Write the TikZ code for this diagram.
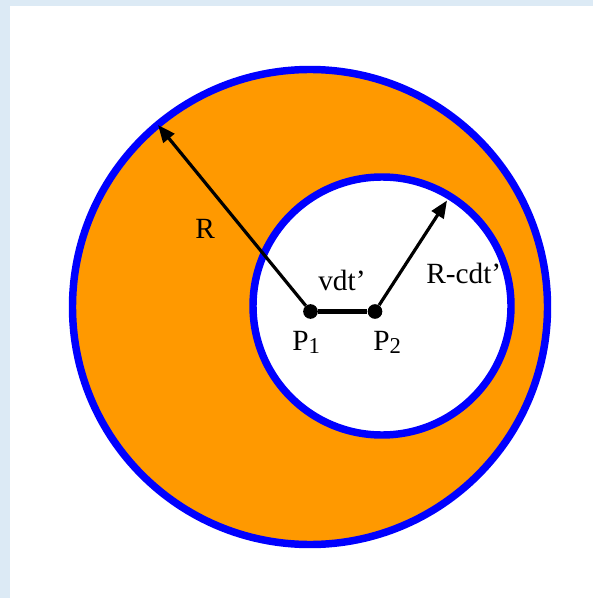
\documentclass[tikz,border=0pt]{standalone}
\usepackage{fontspec}
\setmainfont{Liberation Serif}
\usetikzlibrary{arrows.meta}
\definecolor{bgblue}{RGB}{220,234,245}
\definecolor{ringorange}{RGB}{255,153,0}
\definecolor{ringblue}{RGB}{0,0,255}
\newcommand{\sbs}[1]{{\fontsize{17}{17}\selectfont\raisebox{-2.5pt}{#1}}}
\begin{document}
\begin{tikzpicture}[x=0.75pt,y=-0.75pt,
 ring/.style={draw=ringblue,line width=5.6pt},
 dot/.style={circle,fill=black,inner sep=0pt,minimum size=11pt},
 lbl/.style={anchor=base west,inner sep=0pt,font=\fontsize{22}{22}\selectfont},
 radiusarrow/.style={line width=2.4pt,-{Triangle[length=13pt,width=10.5pt]}},
 segment/.style={line width=3.4pt}]
\fill[bgblue] (0,0) rectangle (593,598);
\fill[white] (10,6) rectangle (593,598);
\useasboundingbox (0,0) rectangle (593,598);
\coordinate (O) at (310,307);
\coordinate (C) at (382,306);
\filldraw[ring,fill=ringorange] (O) circle[radius=237.5];
\filldraw[ring,fill=white] (C) circle[radius=129];
\node[dot] (P1) at (310.5,311.5) {};
\node[dot] (P2) at (375,311.5) {};
\coordinate (Rtip) at (158,125);
\coordinate (Stip) at (447,200.5);
\draw[segment] (P1) -- (P2);
\draw[radiusarrow] (P1) -- (Rtip);
\draw[radiusarrow] (P2) -- (Stip);
\node[lbl] (lR) at (195,238.3) {R};
\node[lbl] (lv) at (318,290) {vdt’};
\node[lbl] (lr) at (426,283.3) {R-cdt’};
\node[lbl] (lP1) at (292,350) {P\sbs{1}};
\node[lbl] (lP2) at (373,350) {P\sbs{2}};
\end{tikzpicture}
\end{document}
